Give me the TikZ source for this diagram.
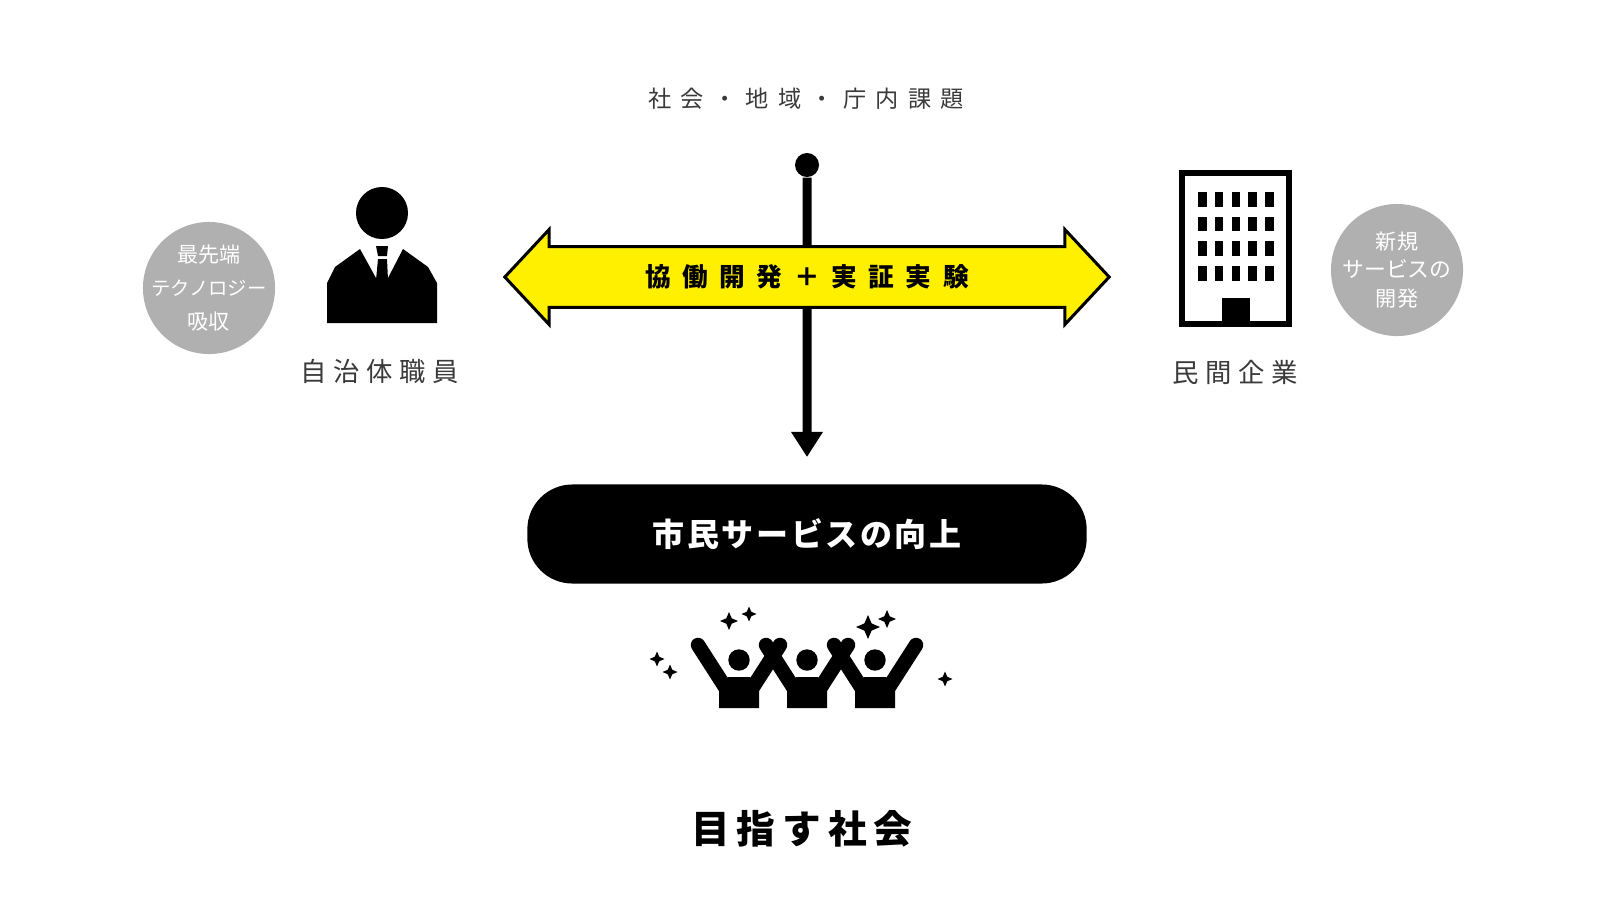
\documentclass[tikz,border=0pt]{standalone}
\usepackage{fontspec}
\setmainfont{Noto Sans CJK JP}
\usetikzlibrary{arrows.meta,shapes.arrows}
\definecolor{bandyellow}{HTML}{FFF000}
\definecolor{badgegray}{HTML}{B0B0B0}
\definecolor{labelgray}{HTML}{3A3A3A}
\tikzset{
    badge/.style={circle,fill=badgegray,text=white,minimum size=1.32cm,inner sep=-0.2cm,align=center},
    spacedlabel/.style={text=labelgray,inner sep=0pt,font={\fontsize{7.5}{9}\selectfont\addfontfeatures{LetterSpace=25}}},
    flowline/.style={line width=0.09cm,black},
    pics/sparkle/.style={code={\fill (0,-#1) -- (0.3*#1,-0.3*#1) -- (#1,0) -- (0.3*#1,0.3*#1) -- (0,#1) -- (-0.3*#1,0.3*#1) -- (-#1,0) -- (-0.3*#1,-0.3*#1) -- cycle;}},
    pics/cheerer/.style={code={
        \fill (-20,48) -- (-20,30) -- (-11,17) -- (11,17) -- (20,30) -- (20,48) -- cycle;
        \fill (0,0) circle (10.7);
        \draw[line width=0.145cm,line cap=round] (-41,-15) -- (-14,27);
        \draw[line width=0.145cm,line cap=round] (41,-15) -- (14,27);
    }}
}
\begin{document}
\begin{tikzpicture}[x=0.01cm,y=-0.01cm]
    \useasboundingbox (0,0) rectangle (1600,900);
    \node[spacedlabel,font={\fontsize{6.6}{8}\selectfont\addfontfeatures{LetterSpace=40}}] at (806,99) (issues) {社会・地域・庁内課題};

    \node[circle,fill=black,minimum size=0.24cm,inner sep=0pt] at (807,165) (issuedot) {};
    \coordinate (flowend) at (807,457);
    \node[double arrow,draw=black,line width=0.03cm,fill=bandyellow,minimum height=6.04cm,minimum width=0.95cm,double arrow head extend=0.15cm,double arrow tip angle=94,inner xsep=0pt,inner ysep=0.13cm,font={\bfseries\fontsize{7.3}{9}\selectfont\addfontfeatures{LetterSpace=45}}] at (807,277) (band) {協働開発＋実証実験};
    \draw[flowline] (issuedot) -- (band);
    \draw[flowline,-{Triangle[length=0.25cm,width=0.3cm]}] (band) -- (flowend);

    % staff side
    \node[badge,font={\fontsize{6}{9.4}\selectfont}] at (209,288) (techbadge) {最先端\\{\fontsize{5.5}{9.4}\selectfont テクノロジー}\\吸収};
    \node[circle,fill=black,minimum size=0.52cm,inner sep=0pt] at (382,213) (staffhead) {};
    \fill (327,323) -- (327,283) -- (335,267) -- (360,249) -- (376,278) -- (388,278) -- (403,249) -- (428,267) -- (437,283) -- (437,323) -- cycle;
    \fill (376,246) -- (388,246) -- (387,256) -- (378,256) -- cycle;
    \fill (378,259) -- (387,259) -- (388,280) -- (376,280) -- cycle;
    \node[spacedlabel] at (380,371) (staff) {自治体職員};

    % company side
    \draw[line width=0.06cm,miter limit=10] (1182,173) rectangle (1289,324);
    \foreach \r in {192,216.7,241.4,266.1}
        \foreach \c in {1198,1214.8,1231.6,1248.4,1265.2}
            \fill (\c,\r) rectangle ++(8.5,14.5);
    \fill (1222,298) rectangle (1250,324);
    \node[badge,font={\fontsize{6}{8}\selectfont}] at (1397,270) (servicebadge) {新規\\{\fontsize{6.2}{8}\selectfont サービスの}\\開発};
    \node[spacedlabel] at (1235,372) (company) {民間企業};

    \node[fill=black,rounded corners=0.45cm,minimum width=5.59cm,minimum height=0.99cm,text=white,inner sep=0pt,font={\bfseries\fontsize{9.1}{11}\selectfont\addfontfeatures{LetterSpace=8}}] at (807,534) (goal) {市民サービスの向上};

    \foreach \x in {739,807,875}
        \pic at (\x,660) {cheerer};
    \foreach \x/\y/\s in {729/621/9,749/614/7.5,868/627/12,887/619/9,657/659/7.5,670/672/7.5,945/679/7.5}
        \pic at (\x,\y) {sparkle=\s};

    \node[inner sep=0pt,font={\bfseries\fontsize{11}{13}\selectfont\addfontfeatures{LetterSpace=18}}] at (802,829) (aim) {目指す社会};
\end{tikzpicture}
\end{document}
